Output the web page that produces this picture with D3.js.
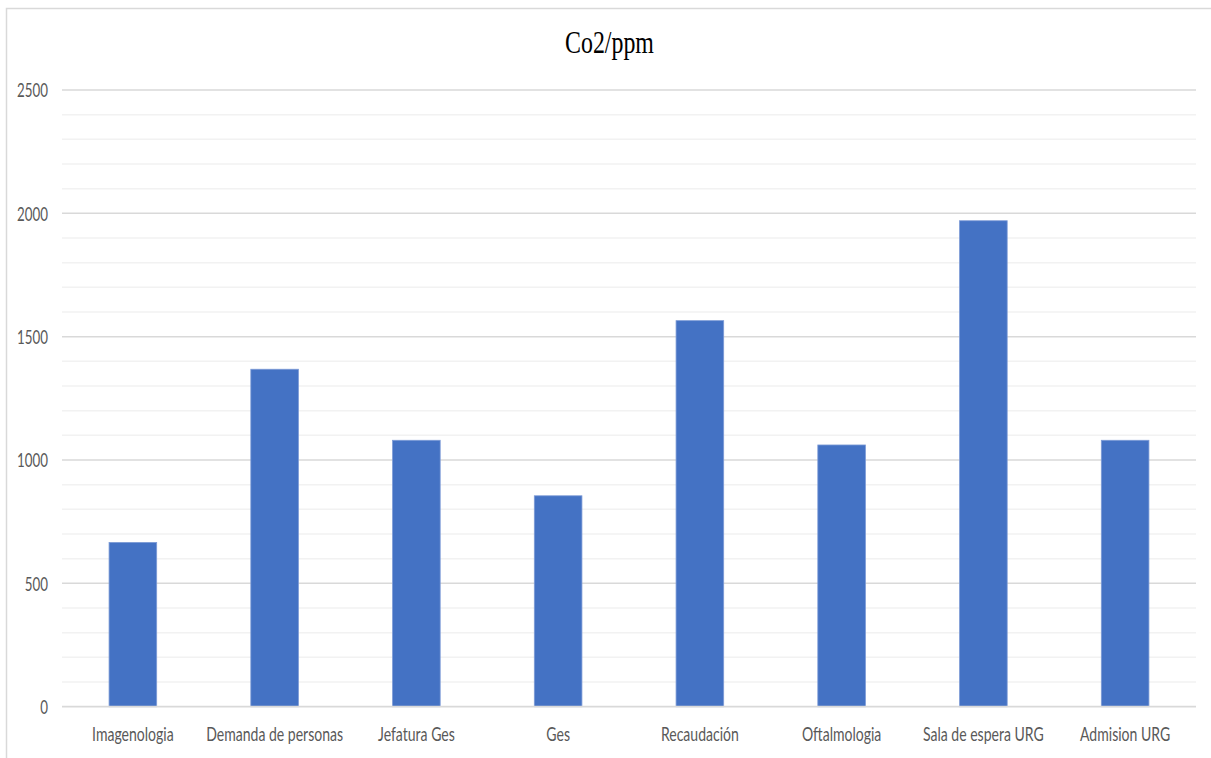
<!DOCTYPE html>
<html>
<head>
<meta charset="utf-8">
<script src="https://cdn.jsdelivr.net/npm/d3@7"></script>
<style>
  html, body { margin: 0; padding: 0; background: #fff; }
  svg { display: block; }
</style>
</head>
<body>
<svg id="chart" width="1211" height="758"></svg>
<script>
const title = "Co2/ppm";
const categories = ["Imagenologia", "Demanda de personas", "Jefatura Ges", "Ges", "Recaudación", "Oftalmologia", "Sala de espera URG", "Admision URG"];
const values = [666, 1368, 1080, 855, 1565, 1061, 1970, 1080];
const yTicks = [0, 500, 1000, 1500, 2000, 2500];
const yMinorStep = 100;
const yMax = 2500;

(function () {
const svg = d3.select("#chart");
const W = 1211, H = 758;
const mLeft = 62, mRight = 1196, mTop = 90, mBottom = 706.7;
const SX = 0.72; // horizontal compression of text (reference is vertically stretched)

// frame
svg.append("rect")
  .attr("x", 6.5).attr("y", 8.5)
  .attr("width", W + 20).attr("height", H + 20)
  .attr("fill", "#fff").attr("stroke", "#d9d9d9").attr("stroke-width", 1.5);

const x = d3.scaleBand().domain(categories).range([mLeft, mRight]).paddingInner(0.664).paddingOuter(0.332);
const y = d3.scaleLinear().domain([0, yMax]).range([mBottom, mTop]);

// minor gridlines
const minor = d3.range(0, yMax + 1, yMinorStep).filter(v => v % 500 !== 0);
svg.append("g").selectAll("line").data(minor).join("line")
  .attr("x1", mLeft).attr("x2", mRight)
  .attr("y1", d => y(d)).attr("y2", d => y(d))
  .attr("stroke", "#f2f2f2").attr("stroke-width", 1.5);

// major gridlines
svg.append("g").selectAll("line").data(yTicks.filter(v => v !== 0)).join("line")
  .attr("x1", mLeft).attr("x2", mRight)
  .attr("y1", d => y(d)).attr("y2", d => y(d))
  .attr("stroke", "#d9d9d9").attr("stroke-width", 1.5);

// bars
svg.append("g").selectAll("rect").data(values).join("rect")
  .attr("x", (d, i) => x(categories[i]))
  .attr("y", d => y(d))
  .attr("width", x.bandwidth())
  .attr("height", d => y(0) - y(d))
  .attr("fill", "#4472c4")
  .attr("stroke", "#7d9bd6").attr("stroke-width", 0.8);

// baseline
svg.append("line")
  .attr("x1", mLeft).attr("x2", mRight)
  .attr("y1", y(0)).attr("y2", y(0))
  .attr("stroke", "#d9d9d9").attr("stroke-width", 1.8);

// y axis labels
const yAxis = d3.axisLeft(y).tickValues(yTicks).tickSize(0).tickPadding(0).tickFormat(d3.format("d"));
const gy = svg.append("g").attr("transform", `translate(48,0)`).call(yAxis);
gy.select(".domain").remove();
gy.selectAll("text")
  .attr("x", 0).attr("dy", "0.36em")
  .attr("transform", `scale(${SX},1)`)
  .style("font-family", "Lato, 'Open Sans', sans-serif")
  .style("font-size", "18.5px")
  .attr("fill", "#595959");

// x axis labels
const xAxis = d3.axisBottom(x).tickSize(0).tickPadding(0);
const gx = svg.append("g").attr("transform", `translate(0,${mBottom})`).call(xAxis);
gx.select(".domain").remove();
gx.selectAll("text")
  .attr("y", 34).attr("dy", 0)
  .attr("transform", `scale(${SX},1)`)
  .style("font-family", "Lato, 'Open Sans', sans-serif")
  .style("font-size", "19.5px")
  .attr("fill", "#595959");

// title
svg.append("text")
  .attr("transform", `translate(609.5,53.3) scale(0.77,1)`)
  .attr("text-anchor", "middle")
  .style("font-family", "'Liberation Serif', 'Times New Roman', serif")
  .style("font-size", "31px")
  .attr("fill", "#000")
  .text(title);
})();
</script>
</body>
</html>
